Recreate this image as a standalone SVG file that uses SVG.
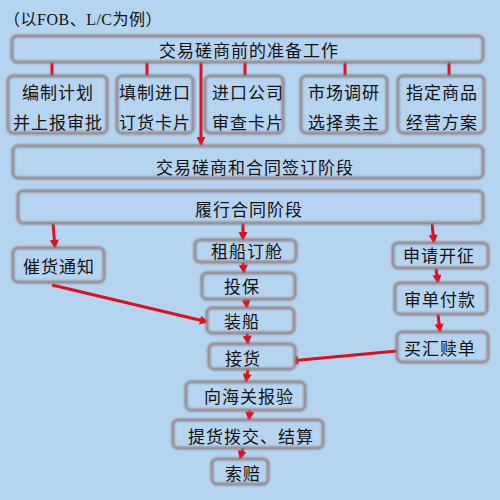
<svg xmlns="http://www.w3.org/2000/svg" width="500" height="500" viewBox="0 0 500 500">
<defs>
<style>
.bx{fill:#b5d4f0;stroke:#8e7e7c;stroke-width:3;filter:url(#soft)}
.t{font-family:"Noto Sans CJK SC","Noto Sans",sans-serif;font-size:17px;fill:#111;text-anchor:middle;dominant-baseline:central;letter-spacing:1px}
.ttl{font-family:"Liberation Serif","Noto Sans CJK SC",serif;font-size:16px;fill:#111;letter-spacing:0.5px}
.c{stroke:#e01020;stroke-width:3;fill:none}
.a{marker-end:url(#ah)}
</style>
<filter id="soft" x="-10%" y="-30%" width="120%" height="160%">
<feGaussianBlur stdDeviation="0.9"/>
</filter>
<marker id="ah" viewBox="0 0 10 10" refX="9" refY="5" markerWidth="3.6" markerHeight="3" orient="auto" markerUnits="strokeWidth">
<path d="M0,0 L10,5 L0,10 z" fill="#e01020"/>
</marker>
</defs>
<rect width="500" height="500" fill="#b5d4f0"/>
<text class="ttl" x="4" y="25">（以FOB、L/C为例）</text>

<g id="connectors">
<line class="c" x1="52" y1="62" x2="52" y2="76"/>
<line class="c" x1="147" y1="62" x2="147" y2="76"/>
<line class="c" x1="245" y1="62" x2="245" y2="76"/>
<line class="c" x1="345" y1="62" x2="345" y2="76"/>
<line class="c" x1="449" y1="62" x2="449" y2="76"/>
<line class="c a" x1="201" y1="62" x2="201" y2="145"/>
<line class="c a" x1="53" y1="223" x2="55" y2="248"/>
<line class="c a" x1="243" y1="223" x2="243" y2="240"/>
<line class="c a" x1="432" y1="223" x2="434" y2="243"/>
<line class="c a" x1="436" y1="268" x2="438" y2="283"/>
<line class="c a" x1="438" y1="314" x2="440" y2="332"/>
<line class="c a" x1="243" y1="262" x2="244" y2="273"/>
<line class="c a" x1="246" y1="299" x2="247" y2="308"/>
<line class="c a" x1="247" y1="333" x2="248" y2="344"/>
<line class="c a" x1="248" y1="369" x2="246" y2="382"/>
<line class="c a" x1="250" y1="410" x2="249" y2="420"/>
<line class="c a" x1="243" y1="448" x2="240" y2="459"/>
<line class="c a" x1="52" y1="285" x2="208" y2="322"/>
<line class="c a" x1="397" y1="351" x2="290" y2="361"/>
</g>

<g id="n-prep"><rect class="bx" x="12" y="36" width="471" height="26" rx="5"/><text class="t" x="249" y="49">交易磋商前的准备工作</text></g>
<g id="n-plan"><rect class="bx" x="8" y="76" width="99" height="57" rx="5"/><text class="t" x="58" y="91">编制计划</text><text class="t" x="58" y="121">并上报审批</text></g>
<g id="n-card"><rect class="bx" x="117" y="76" width="76" height="57" rx="5"/><text class="t" x="155" y="91">填制进口</text><text class="t" x="155" y="121">订货卡片</text></g>
<g id="n-check"><rect class="bx" x="205" y="76" width="78" height="57" rx="5"/><text class="t" x="248" y="91">进口公司</text><text class="t" x="248" y="121">审查卡片</text></g>
<g id="n-market"><rect class="bx" x="301" y="76" width="86" height="57" rx="5"/><text class="t" x="344" y="91">市场调研</text><text class="t" x="344" y="121">选择卖主</text></g>
<g id="n-goods"><rect class="bx" x="398" y="76" width="86" height="57" rx="5"/><text class="t" x="442" y="91">指定商品</text><text class="t" x="442" y="121">经营方案</text></g>
<g id="n-sign"><rect class="bx" x="13" y="146" width="470" height="32" rx="5"/><text class="t" x="255" y="166">交易磋商和合同签订阶段</text></g>
<g id="n-perform"><rect class="bx" x="18" y="191" width="465" height="32" rx="5"/><text class="t" x="249" y="208">履行合同阶段</text></g>
<g id="n-urge"><rect class="bx" x="13" y="248" width="91" height="34" rx="5"/><text class="t" x="59" y="265">催货通知</text></g>
<g id="n-ship"><rect class="bx" x="195" y="240" width="101" height="22" rx="5"/><text class="t" x="247" y="250">租船订舱</text></g>
<g id="n-ins"><rect class="bx" x="202" y="273" width="93" height="26" rx="5"/><text class="t" x="242" y="285">投保</text></g>
<g id="n-load"><rect class="bx" x="207" y="308" width="87" height="25" rx="5"/><text class="t" x="242" y="320">装船</text></g>
<g id="n-recv"><rect class="bx" x="209" y="344" width="86" height="25" rx="5"/><text class="t" x="243" y="357">接货</text></g>
<g id="n-customs"><rect class="bx" x="186" y="382" width="119" height="28" rx="5"/><text class="t" x="249" y="395">向海关报验</text></g>
<g id="n-settle"><rect class="bx" x="173" y="420" width="150" height="28" rx="5"/><text class="t" x="251" y="435">提货拨交、结算</text></g>
<g id="n-claim"><rect class="bx" x="212" y="459" width="56" height="25" rx="5"/><text class="t" x="243" y="472">索赔</text></g>
<g id="n-lc"><rect class="bx" x="393" y="243" width="95" height="25" rx="5"/><text class="t" x="439" y="254">申请开征</text></g>
<g id="n-pay"><rect class="bx" x="395" y="283" width="92" height="31" rx="5"/><text class="t" x="440" y="298">审单付款</text></g>
<g id="n-redeem"><rect class="bx" x="397" y="332" width="91" height="30" rx="5"/><text class="t" x="440" y="347">买汇赎单</text></g>
</svg>
